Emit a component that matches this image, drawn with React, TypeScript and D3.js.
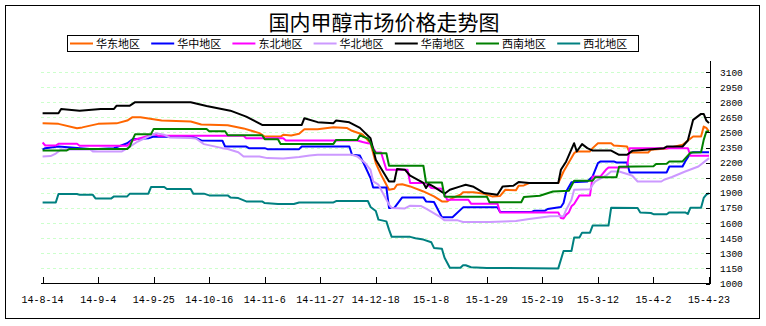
import React from "react";
import * as d3 from "d3";

// Days since 2014-08-14 and prices (元/吨)
const START_DATE = "2014-08-14";
const SPAN_DAYS = 252;

const huadong: [number, number][] = [[0,2590],[6,2585],[13,2542],[15,2550],[21,2585],[28,2590],[32,2618],[34,2651],[37,2651],[45,2618],[56,2608],[60,2578],[70,2572],[76,2540],[82,2493],[84,2459],[90,2459],[91,2476],[94,2470],[97,2486],[99,2532],[104,2532],[110,2552],[115,2545],[117,2516],[121,2480],[124,2393],[126,2196],[128,2080],[131,1931],[133,1940],[134,1981],[136,1985],[139,1964],[144,1914],[148,1865],[151,1815],[153,1815],[155,1849],[158,1882],[159,1905],[163,1905],[167,1892],[168,1880],[170,1865],[173,1870],[175,1931],[179,1925],[180,1971],[182,1974],[184,1997],[195,1997],[197,2112],[201,2294],[202,2311],[207,2311],[208,2344],[210,2393],[215,2393],[216,2370],[221,2360],[222,2301],[229,2301],[230,2327],[236,2340],[242,2377],[246,2459],[249,2459],[250,2558],[251,2545],[252,2509]];

const huazhong: [number, number][] = [[0,2330],[1,2344],[6,2360],[19,2334],[27,2344],[32,2393],[34,2433],[40,2443],[42,2459],[57,2455],[60,2420],[68,2417],[69,2360],[77,2360],[78,2344],[84,2344],[85,2334],[97,2334],[98,2360],[116,2360],[117,2278],[120,2270],[122,2162],[124,2047],[125,1954],[130,1954],[131,1750],[133,1750],[136,1855],[144,1855],[145,1815],[148,1810],[151,1657],[155,1657],[159,1756],[172,1756],[173,1710],[185,1710],[186,1723],[190,1723],[191,1740],[196,1760],[197,1800],[198,1914],[200,2005],[206,2013],[208,2063],[210,2196],[211,2212],[216,2212],[217,2202],[221,2202],[222,2103],[236,2103],[237,2162],[242,2162],[243,2212],[245,2294],[246,2304],[252,2304]];

const dongbei: [number, number][] = [[0,2400],[1,2370],[5,2370],[6,2387],[13,2387],[14,2367],[32,2367],[34,2420],[42,2483],[44,2466],[76,2466],[77,2443],[91,2443],[92,2420],[119,2420],[121,2405],[123,2393],[124,2390],[126,2304],[128,2300],[130,2129],[138,2129],[139,1997],[145,1997],[147,1948],[151,1940],[153,1832],[161,1832],[162,1793],[172,1793],[173,1706],[195,1706],[196,1650],[197,1645],[198,1684],[199,1706],[200,1766],[201,1790],[203,1875],[207,1875],[208,2063],[211,2063],[213,2129],[214,2152],[221,2152],[222,2344],[244,2344],[245,2268],[252,2268]];

const huabei: [number, number][] = [[0,2261],[3,2265],[5,2290],[7,2330],[18,2330],[19,2311],[30,2311],[33,2360],[36,2410],[41,2470],[43,2493],[46,2476],[48,2450],[56,2445],[58,2440],[61,2384],[68,2344],[70,2335],[74,2304],[76,2261],[82,2261],[85,2245],[91,2240],[97,2255],[101,2271],[104,2278],[117,2278],[119,2261],[122,2196],[124,2129],[125,2013],[127,1981],[131,1783],[132,1750],[137,1745],[139,1773],[143,1770],[145,1743],[150,1667],[152,1627],[157,1627],[159,1611],[169,1611],[179,1620],[184,1641],[192,1667],[197,1670],[198,1733],[200,1832],[201,1931],[207,1935],[208,1981],[209,2013],[213,2070],[215,2112],[218,2112],[222,2080],[223,2070],[225,2013],[234,2013],[235,2030],[238,2057],[243,2112],[248,2162],[252,2245]];

const huanan: [number, number][] = [[0,2690],[6,2690],[7,2733],[14,2716],[22,2733],[27,2733],[28,2766],[33,2766],[35,2800],[56,2800],[62,2763],[71,2716],[77,2657],[83,2575],[98,2575],[99,2641],[104,2602],[110,2592],[111,2618],[116,2600],[120,2545],[124,2443],[126,2228],[131,2013],[133,2013],[134,2136],[137,2130],[139,2070],[144,1998],[145,1948],[146,1990],[148,1960],[152,1891],[154,1931],[158,1964],[160,1981],[163,1960],[167,1898],[172,1882],[174,1964],[178,1970],[180,2007],[184,1997],[195,1997],[196,2129],[198,2212],[201,2393],[202,2311],[204,2384],[206,2344],[208,2320],[215,2320],[218,2278],[221,2278],[223,2317],[228,2327],[235,2344],[236,2360],[242,2360],[244,2420],[246,2625],[249,2684],[250,2684],[251,2618],[252,2592]];

const xinan: [number, number][] = [[0,2320],[9,2320],[10,2335],[32,2335],[33,2360],[34,2426],[35,2483],[41,2483],[42,2535],[62,2535],[63,2512],[69,2512],[70,2472],[83,2472],[84,2433],[89,2433],[90,2386],[110,2386],[111,2426],[119,2426],[120,2472],[121,2460],[123,2440],[124,2400],[125,2330],[126,2294],[130,2294],[131,2169],[144,2169],[145,2003],[151,2003],[152,1862],[168,1862],[169,1807],[181,1807],[182,1859],[188,1872],[193,1914],[199,1920],[201,2020],[208,2020],[209,2055],[217,2055],[218,2160],[231,2165],[232,2187],[236,2190],[237,2212],[242,2212],[245,2300],[249,2304],[250,2426],[251,2509],[252,2509]];

const xibei: [number, number][] = [[0,1805],[5,1805],[6,1888],[13,1888],[14,1880],[19,1880],[20,1845],[26,1845],[27,1865],[32,1865],[33,1892],[40,1892],[41,1958],[46,1958],[47,1938],[56,1938],[57,1892],[61,1892],[63,1875],[70,1875],[71,1855],[74,1848],[77,1815],[83,1815],[84,1799],[89,1789],[95,1789],[97,1805],[110,1805],[111,1819],[123,1819],[124,1760],[126,1720],[127,1634],[130,1617],[131,1535],[132,1463],[139,1463],[141,1450],[144,1436],[147,1409],[148,1353],[151,1345],[152,1255],[154,1156],[158,1156],[159,1181],[160,1181],[162,1161],[168,1155],[195,1150],[197,1323],[200,1323],[201,1456],[203,1456],[204,1505],[207,1505],[208,1575],[214,1575],[215,1753],[225,1750],[226,1706],[230,1700],[231,1688],[236,1688],[237,1706],[243,1706],[244,1690],[245,1753],[249,1753],[250,1849],[251,1882],[252,1898]];

const seriesNames = ["华东地区", "华中地区", "东北地区", "华北地区", "华南地区", "西南地区", "西北地区"];
const seriesData = [huadong, huazhong, dongbei, huabei, huanan, xinan, xibei];
const seriesColors = ["#FF6600", "#0000FF", "#FF00FF", "#CC99FF", "#000000", "#008000", "#008080"];

const xTickLabels = ["14-8-14", "14-9-4", "14-9-25", "14-10-16", "14-11-6", "14-11-27", "14-12-18", "15-1-8", "15-1-29", "15-2-19", "15-3-12", "15-4-2", "15-4-23"];
const yTicks = [1000, 1150, 1300, 1450, 1600, 1750, 1900, 2050, 2200, 2350, 2500, 2650, 2800, 2950, 3100];

const TITLE = "国内甲醇市场价格走势图";

export default function App() {
  const W = 766, H = 326;
  const start = d3.timeParse("%Y-%m-%d")(START_DATE) as Date;
  const end = d3.timeDay.offset(start, SPAN_DAYS);
  const x = d3.scaleTime().domain([start, end]).range([42.6, 709]);
  const y = d3.scaleLinear().domain([1000, 3100]).range([283.5, 72]);
  const line = d3.line<[number, number]>()
    .x((d) => x(d3.timeDay.offset(start, d[0])))
    .y((d) => y(d[1]));
  const tickDates = xTickLabels.map((_, i) => d3.timeDay.offset(start, (SPAN_DAYS / (xTickLabels.length - 1)) * i));

  const monoFont = "'Liberation Mono', monospace";
  const cjkFont = "'Noto Sans CJK SC', sans-serif";
  const legendX0 = 70, legendStep = 81.2;

  return (
    <svg width={W} height={H} style={{ position: "absolute", left: 0, top: 0, background: "#fff" }}>
      <rect x={5.5} y={5.5} width={754} height={313} fill="#fff" stroke="#000" strokeWidth={1} />
      <text x={384} y={30} textAnchor="middle" fontFamily={cjkFont} fontSize={21} fill="#000">{TITLE}</text>

      {/* legend */}
      <rect x={67.5} y={35.5} width={571} height={16} fill="#fff" stroke="#000" strokeWidth={1} />
      {seriesNames.map((n, i) => (
        <g key={n}>
          <line x1={legendX0 + i * legendStep} x2={legendX0 + i * legendStep + 23} y1={43.5} y2={43.5} stroke={seriesColors[i]} strokeWidth={2} />
          <text x={legendX0 + i * legendStep + 26} y={47.5} fontFamily={cjkFont} fontSize={11} fill="#000">{n}</text>
        </g>
      ))}

      {/* gridlines */}
      {yTicks.slice(1).map((v) => (
        <line key={v} x1={41} x2={706} y1={Math.round(y(v)) + 0.5} y2={Math.round(y(v)) + 0.5} stroke="#CCFFCC" strokeWidth={1} strokeDasharray="3,3" />
      ))}

      {/* series */}
      {seriesData.map((s, i) => (
        <path key={seriesNames[i]} d={line(s) || ""} fill="none" stroke={seriesColors[i]} strokeWidth={2} strokeLinejoin="round" />
      ))}

      {/* bottom axis */}
      <line x1={41} x2={710} y1={283.5} y2={283.5} stroke="#000" strokeWidth={1} />
      {tickDates.map((d, i) => (
        <g key={i}>
          <line x1={Math.round(x(d)) + 0.5} x2={Math.round(x(d)) + 0.5} y1={277} y2={284} stroke="#000" strokeWidth={1} />
          <text x={x(d)} y={303} textAnchor="middle" fontFamily={monoFont} fontSize={10} fill="#000">{xTickLabels[i]}</text>
        </g>
      ))}

      {/* right axis */}
      <line x1={710.5} x2={710.5} y1={61} y2={284} stroke="#000" strokeWidth={1} />
      {yTicks.map((v) => (
        <g key={v}>
          <line x1={706} x2={710} y1={Math.round(y(v)) + 0.5} y2={Math.round(y(v)) + 0.5} stroke="#000" strokeWidth={1} />
          <text x={720} y={y(v) + 3.5} fontFamily={monoFont} fontSize={9.5} fill="#000">{v}</text>
        </g>
      ))}
    </svg>
  );
}
